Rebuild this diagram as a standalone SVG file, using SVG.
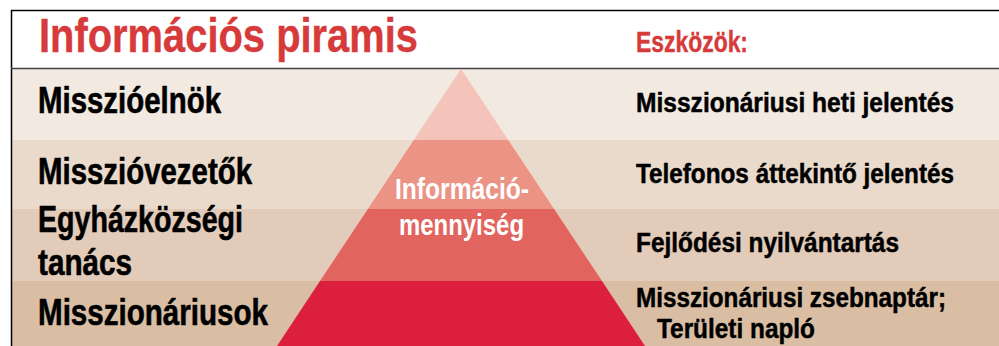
<svg xmlns="http://www.w3.org/2000/svg" width="999" height="346" viewBox="0 0 999 346">
<style>
.f{font-family:"Liberation Sans",Arial,sans-serif;font-weight:bold}
.lbl{font-size:36px;fill:#000;stroke:#000;stroke-width:0.6}
.tool{font-size:28px;fill:#000;stroke:#000;stroke-width:0.5}
.red{fill:#d63a3a;stroke:#d63a3a;stroke-width:0.4}
.py{font-size:29px;fill:#fff}
</style>
<rect x="0" y="0" width="999" height="346" fill="#fff"/>
<g id="bands">
<rect x="11" y="69" width="988" height="71" fill="#f2e9e0"/>
<rect x="11" y="140" width="988" height="69" fill="#eadacb"/>
<rect x="11" y="209" width="988" height="72" fill="#e2cbb8"/>
<rect x="11" y="281" width="988" height="65" fill="#d9bea4"/>
</g>
<g id="frame">
<line x1="11" y1="10.5" x2="999" y2="10.5" stroke="#000" stroke-width="1.5"/>
<line x1="11.5" y1="10" x2="11.5" y2="346" stroke="#000" stroke-width="1.5"/>
<line x1="11" y1="68.5" x2="999" y2="68.5" stroke="#444" stroke-width="1.5"/>
</g>
<g id="header">
<text class="f red" x="39" y="52" font-size="49" textLength="379" lengthAdjust="spacingAndGlyphs">Információs piramis</text>
<text class="f red" x="636" y="52" font-size="30" textLength="112" lengthAdjust="spacingAndGlyphs">Eszközök:</text>
</g>
<g id="pyramid">
<polygon points="461,69 508.2,140 413.8,140" fill="#f4c4bb"/>
<polygon points="413.8,140 508.2,140 554.1,209 367.9,209" fill="#eb9385"/>
<polygon points="367.9,209 554.1,209 602,281 320,281" fill="#e2645e"/>
<polygon points="320,281 602,281 645,346 277,346" fill="#dc1f3c"/>
<text class="f py" x="395" y="199" textLength="134" lengthAdjust="spacingAndGlyphs">Információ-</text>
<text class="f py" x="399" y="235" textLength="125" lengthAdjust="spacingAndGlyphs">mennyiség</text>
</g>
<g id="row1">
<text class="f lbl" x="38" y="113" textLength="183" lengthAdjust="spacingAndGlyphs">Misszióelnök</text>
<text class="f tool" x="636" y="112" textLength="318" lengthAdjust="spacingAndGlyphs">Misszionáriusi heti jelentés</text>
</g>
<g id="row2">
<text class="f lbl" x="38" y="184" textLength="214" lengthAdjust="spacingAndGlyphs">Misszióvezetők</text>
<text class="f tool" x="636" y="183" textLength="318" lengthAdjust="spacingAndGlyphs">Telefonos áttekintő jelentés</text>
</g>
<g id="row3">
<text class="f lbl" x="38" y="232" textLength="205" lengthAdjust="spacingAndGlyphs">Egyházközségi</text>
<text class="f lbl" x="38" y="275" textLength="94" lengthAdjust="spacingAndGlyphs">tanács</text>
<text class="f tool" x="636" y="252" textLength="263" lengthAdjust="spacingAndGlyphs">Fejlődési nyilvántartás</text>
</g>
<g id="row4">
<text class="f lbl" x="38" y="325" textLength="230" lengthAdjust="spacingAndGlyphs">Misszionáriusok</text>
<text class="f tool" x="636" y="307" textLength="310" lengthAdjust="spacingAndGlyphs">Misszionáriusi zsebnaptár;</text>
<text class="f tool" x="657" y="338" textLength="158" lengthAdjust="spacingAndGlyphs">Területi napló</text>
</g>
<g id="connectors"/>
</svg>
